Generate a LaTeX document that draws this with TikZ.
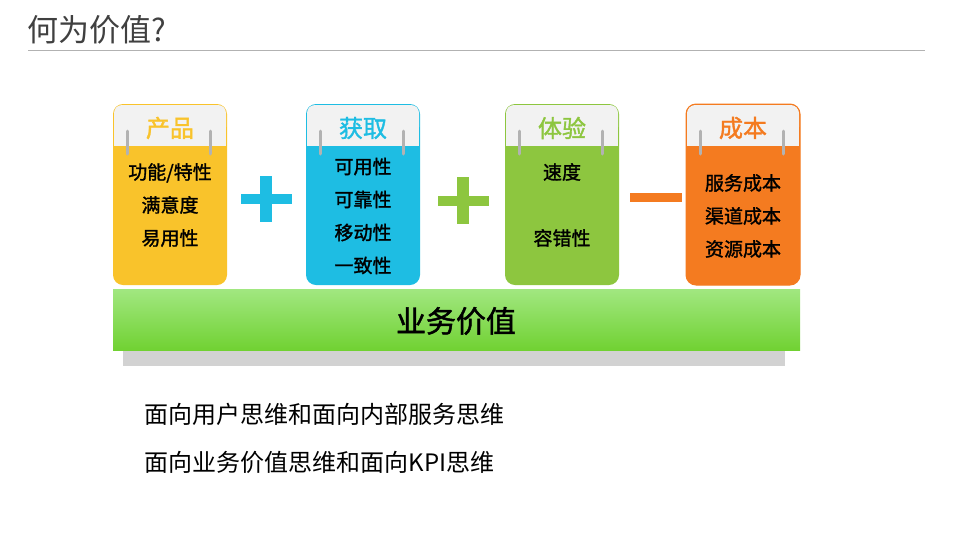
\documentclass[tikz,border=0pt]{standalone}
\usepackage{fontspec}
\setmainfont{Noto Sans CJK SC}
\newfontfamily\cjkb[FakeBold=1.5]{Noto Sans CJK SC}
\begin{document}
\begin{tikzpicture}[x=1pt,y=-1pt,
 hdr/.style={font=\fontsize{24}{26}\selectfont\cjkb},
 body/.style={font=\fontsize{19}{33}\selectfont\cjkb, align=center, text=black},
 big/.style={font=\fontsize{24}{28}\selectfont},
 ring/.style={draw=gray!60, line width=3pt, line cap=round}]
\definecolor{cy}{HTML}{F9C32B}\definecolor{cb}{HTML}{1EBDE3}
\definecolor{cg}{HTML}{8DC63F}\definecolor{co}{HTML}{F47B20}
\definecolor{hd}{HTML}{F2F2F2}
\useasboundingbox (0,0) rectangle (959,539);
\node[anchor=west, font=\fontsize{31}{34}\selectfont, text=black!75] (title) at (24,30) {何为价值?};
\draw[gray!60] (28,50) -- (925,50);
\fill[gray!35] (123,345) -- (785,345) -- (785,366) -- (123,366) -- cycle;
\shade[top color=green!30!cg!60, bottom color=cg!80!green, shading angle=0] (113,289) rectangle (800,350);
\node[font=\fontsize{30}{32}\selectfont\cjkb] (bar) at (456,321) {业务价值};
\foreach \x/\c/\h/\n in {113/cy/产品/a,306/cb/获取/b,505/cg/体验/c,686/co/成本/d}{
  \fill[\c, rounded corners=10pt] (\x,104) rectangle ++(114,181);
  \fill[hd, rounded corners=8pt] (\x+1,105) rectangle ++(112,30);
  \fill[hd] (\x+1,120) rectangle ++(112,26);
  \node[hdr, text=\c] (h\n) at (\x+57,128) {\h};
  \draw[ring] (\x+14,131) -- (\x+14,154);
  \draw[ring] (\x+97,131) -- (\x+97,154);
}
\draw[co, line width=1pt, rounded corners=10pt] (686,104) rectangle ++(114,181);
\node[body] (ta) at (170,205) {功能/特性\\满意度\\易用性};
\node[body] (tb) at (363,216) {可用性\\可靠性\\移动性\\一致性};
\node[body, font=\fontsize{19}{66}\selectfont\cjkb] (tc) at (562,205) {速度\\容错性};
\node[body] (td) at (743,216) {服务成本\\渠道成本\\资源成本};
\fill[cb] (241,194) rectangle (292,204); \fill[cb] (260,176) rectangle (272,222);
\fill[cg] (438,196) rectangle (489,206); \fill[cg] (457,177) rectangle (469,224);
\fill[co] (630,193) rectangle (682,202);
\node[big, anchor=west] (l1) at (141,414) {面向用户思维和面向内部服务思维};
\node[big, anchor=west] (l2) at (141,462) {面向业务价值思维和面向KPI思维};
\end{tikzpicture}
\end{document}
